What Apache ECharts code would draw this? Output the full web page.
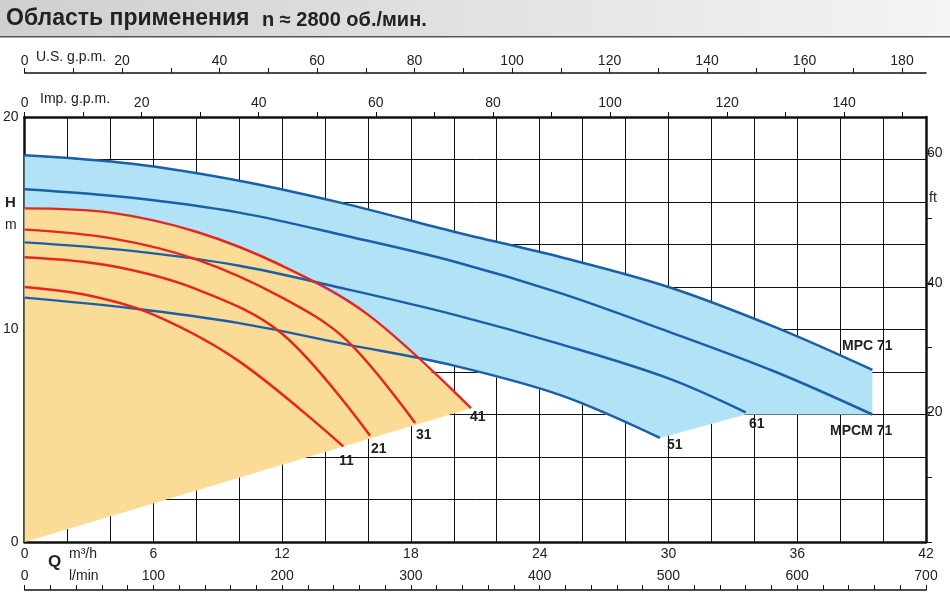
<!DOCTYPE html>
<html><head><meta charset="utf-8">
<script src="https://cdn.jsdelivr.net/npm/echarts@6/dist/echarts.min.js"></script>
<style>body{margin:0;background:#fff}#c{width:950px;height:598px}</style>
</head><body><div id="c"></div>
<script>
// кривые Q (m3/h), H (m)
const mpc71 = [[0,18.2],[5,17.8],[10,17.0],[15,15.9],[20,14.6],[25,13.4],[30,12.0],[35,10.1],[39.5,8.1]];
const mpcm71 = [[0,16.6],[5,16.2],[10,15.5],[15,14.4],[20,13.2],[25,11.7],[30,9.9],[35,8.0],[39.5,6.0]];
const c61 = [[0,14.1],[5,13.7],[10,13.0],[15,11.9],[20,10.7],[25,9.3],[30,7.7],[33.6,6.1]];
const c51 = [[0,11.5],[5,11.0],[10,10.3],[15,9.3],[20,8.3],[25,6.9],[29.6,4.9]];
const c41 = [[0,15.7],[4,15.5],[8,14.6],[12,13.0],[16,10.7],[20.8,6.3]];
const c31 = [[0,14.7],[4,14.3],[8,13.3],[12,11.5],[15,9.5],[18.2,5.6]];
const c21 = [[0,13.4],[4,13.0],[8,11.9],[12,9.8],[16.1,5.0]];
const c11 = [[0,12.0],[3,11.6],[6,10.7],[10,8.5],[14.85,4.5]];
const blueArea = mpc71.concat([[39.5,6.0],[33.6,6.0]], c51.slice().reverse());
const yellowArea = [[0,0]].concat(c41.slice().reverse());

const FONT = 'Liberation Sans';
const BLUE = '#1b5fa8', RED = '#e8261e';

function poly(pts, fill) {
  return {
    type: 'custom', xAxisIndex: 0, yAxisIndex: 0, data: [[0,0]], silent: true,
    renderItem: (p, api) => ({ type: 'polygon', shape: { points: pts.map(d => api.coord(d)) }, style: { fill: fill } })
  };
}
function curve(d, color) {
  return { type: 'line', data: d, smooth: 0.35, symbol: 'none', lineStyle: { color: color, width: 2.5 }, xAxisIndex: 0, yAxisIndex: 0, z: 5 };
}
const lbl = { fontFamily: FONT, fontSize: 14, color: '#222' };
const every = n => v => (Math.abs(v % n) < 1e-6 ? String(v) : '');

const chart = echarts.init(document.getElementById('c'));
chart.setOption({
  animation: false,
  grid: { left: 24, right: 24, top: 117, bottom: 56 },
  xAxis: [
    { type: 'value', min: 0, max: 42, interval: 6, position: 'bottom',
      axisLine: { onZero: false, lineStyle: { color: '#111', width: 2.5 } }, axisTick: { show: false },
      splitLine: { show: false }, axisLabel: Object.assign({ margin: 5 }, lbl) },
    { type: 'value', min: 0, max: 42, interval: 2, position: 'bottom', axisLine: { show: false, onZero: false },
      axisTick: { show: false }, axisLabel: { show: false }, splitLine: { lineStyle: { color: '#111', width: 1 } } },
    { type: 'value', min: 0, max: 700, interval: 20, position: 'bottom', offset: 48,
      axisLine: { show: true, onZero: false, lineStyle: { color: '#111', width: 1.5 } }, axisTick: { show: true, inside: true, length: 5, lineStyle: { color: '#111' } },
      splitLine: { show: false }, axisLabel: Object.assign({ inside: true, margin: 7, formatter: every(100) }, lbl) },
    { type: 'value', min: 0, max: 42 / 0.272766, interval: 10, position: 'top',
      axisLine: { show: true, onZero: false, lineStyle: { color: '#111', width: 2.5 } }, axisTick: { length: 5, lineStyle: { color: '#111' } },
      splitLine: { show: false }, axisLabel: Object.assign({ margin: 7, formatter: every(20), showMaxLabel: false }, lbl) },
    { type: 'value', min: 0, max: 42 / 0.227125, interval: 10, position: 'top', offset: 44,
      axisLine: { show: true, onZero: false, lineStyle: { color: '#111', width: 1.5 } }, axisTick: { length: 5, lineStyle: { color: '#111' } },
      splitLine: { show: false }, axisLabel: Object.assign({ margin: 5, formatter: every(20), showMaxLabel: false }, lbl) }
  ],
  yAxis: [
    { type: 'value', min: 0, max: 20, interval: 10, position: 'left',
      axisLine: { show: true, onZero: false, lineStyle: { color: '#111', width: 2.5 } }, axisTick: { show: false },
      splitLine: { show: false }, axisLabel: Object.assign({ margin: 6 }, lbl) },
    { type: 'value', min: 0, max: 20, interval: 2, position: 'left', axisLine: { show: false, onZero: false },
      axisTick: { show: false }, axisLabel: { show: false }, splitLine: { lineStyle: { color: '#111', width: 1 } } },
    { type: 'value', min: 0, max: 20 / 0.3048, interval: 10, position: 'right',
      axisLine: { show: true, onZero: false, lineStyle: { color: '#111', width: 2.5 } }, axisTick: { length: 6, lineStyle: { color: '#111' } },
      splitLine: { show: false }, axisLabel: Object.assign({ margin: 1, formatter: v => (v > 0 ? every(20)(v) : ''), showMaxLabel: false }, lbl) }
  ],
  series: [
    poly(blueArea, '#b2e2f6'),
    poly(yellowArea, '#fbdc96'),
    curve(mpc71, BLUE), curve(mpcm71, BLUE), curve(c61, BLUE), curve(c51, BLUE),
    curve(c41, RED), curve(c31, RED), curve(c21, RED), curve(c11, RED)
  ],
  graphic: [
    { type: 'rect', shape: { x: 0, y: 0, width: 950, height: 36 }, style: { fill: new echarts.graphic.LinearGradient(0, 0, 1, 0, [{ offset: 0, color: '#cfcfcf' }, { offset: 1, color: '#f4f4f4' }]) } },
    { type: 'rect', shape: { x: 0, y: 36, width: 950, height: 1.5 }, style: { fill: '#555' } },
    { type: 'text', left: 6, top: 7, style: { text: 'Область применения', font: 'bold 23px ' + FONT, fill: '#222' } },
    { type: 'text', left: 262, top: 10, style: { text: 'n ≈ 2800 об./мин.', font: 'bold 20px ' + FONT, fill: '#222' } },
    { type: 'text', left: 36, top: 50, style: { text: 'U.S. g.p.m.', font: '14px ' + FONT, fill: '#222' } },
    { type: 'text', left: 40, top: 92, style: { text: 'Imp. g.p.m.', font: '14px ' + FONT, fill: '#222' } },
    { type: 'text', left: 5, top: 195, style: { text: 'H', font: 'bold 15px ' + FONT, fill: '#222' } },
    { type: 'text', left: 5, top: 218, style: { text: 'm', font: '14px ' + FONT, fill: '#222' } },
    { type: 'text', left: 929, top: 191, style: { text: 'ft', font: '14px ' + FONT, fill: '#222' } },
    { type: 'text', left: 48, top: 554, style: { text: 'Q', font: 'bold 17px ' + FONT, fill: '#222' } },
    { type: 'text', left: 69, top: 547, style: { text: 'm³/h', font: '14px ' + FONT, fill: '#222' } },
    { type: 'text', left: 69, top: 569, style: { text: 'l/min', font: '14px ' + FONT, fill: '#222' } },
    { type: 'text', left: 339, top: 454, style: { text: '11', font: 'bold 14px ' + FONT, fill: '#222' } },
    { type: 'text', left: 371, top: 442, style: { text: '21', font: 'bold 14px ' + FONT, fill: '#222' } },
    { type: 'text', left: 416, top: 428, style: { text: '31', font: 'bold 14px ' + FONT, fill: '#222' } },
    { type: 'text', left: 470, top: 410, style: { text: '41', font: 'bold 14px ' + FONT, fill: '#222' } },
    { type: 'text', left: 667, top: 438, style: { text: '51', font: 'bold 14px ' + FONT, fill: '#222' } },
    { type: 'text', left: 749, top: 417, style: { text: '61', font: 'bold 14px ' + FONT, fill: '#222' } },
    { type: 'text', left: 842, top: 339, style: { text: 'MPC 71', font: 'bold 14px ' + FONT, fill: '#222' } },
    { type: 'text', left: 830, top: 424, style: { text: 'MPCM 71', font: 'bold 14px ' + FONT, fill: '#222' } }
  ]
});
</script></body></html>
